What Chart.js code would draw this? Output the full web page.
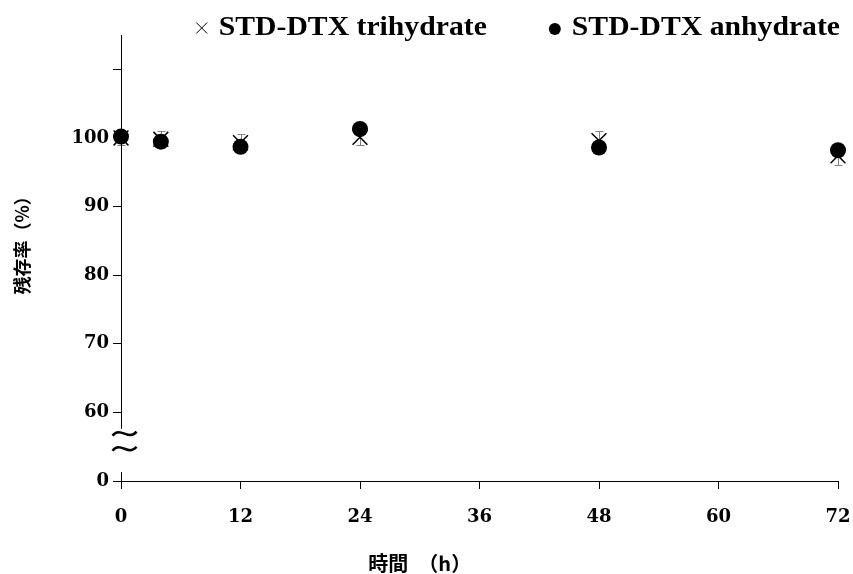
<!DOCTYPE html>
<html>
<head>
<meta charset="utf-8">
<script src="https://cdn.jsdelivr.net/npm/chart.js@4"></script>
<style>
  html, body { margin: 0; padding: 0; background: #fff; }
  #wrap { width: 853px; height: 574px; position: relative; }
</style>
</head>
<body>
<div id="wrap"><canvas id="chart"></canvas></div>
<script>
// time points (h)
const timeH = [0, 4, 12, 24, 48, 72];
// residual rate (%)
const trihydrate = [100.0, 99.8, 99.3, 100.1, 99.6, 97.4];
const trihydrateErr = [1.1, 1.2, 1.2, 1.2, 1.4, 1.4];
const anhydrate = [100.2, 99.45, 98.7, 101.3, 98.6, 98.2];

// axis ticks (y axis is broken: value 50 is shown as "0")
const xTicks = [0, 12, 24, 36, 48, 60, 72];
const yTickValues = [50, 60, 70, 80, 90, 100, 110];
const yTickLabels = ['0', '60', '70', '80', '90', '100', ''];

const seriesNames = ['STD-DTX trihydrate', 'STD-DTX anhydrate'];
const xTitle = '時間　（h）';
const yTitle = '残存率（%）';

const tickFont = { family: "'DejaVu Serif', serif", size: 18, weight: 'bold' };
const legendFont = "bold 27px 'Liberation Serif', serif";
const legendStretch = 1.1;

const toPoints = (ys) => timeH.map((t, i) => ({ x: t, y: ys[i] }));

const extras = {
  id: 'extras',
  beforeDatasetsDraw(chart) {
    // error bars for trihydrate
    const ctx = chart.ctx, xs = chart.scales.x, ys = chart.scales.y;
    ctx.save();
    ctx.strokeStyle = '#808080';
    ctx.lineWidth = 1;
    timeH.forEach((t, i) => {
      const px = Math.round(xs.getPixelForValue(t)) + 0.5;
      const top = ys.getPixelForValue(trihydrate[i] + trihydrateErr[i]);
      const bot = ys.getPixelForValue(trihydrate[i] - trihydrateErr[i]);
      ctx.beginPath();
      ctx.moveTo(px, top); ctx.lineTo(px, bot);
      ctx.moveTo(px - 4, Math.round(top) + 0.5); ctx.lineTo(px + 4, Math.round(top) + 0.5);
      ctx.moveTo(px - 4, Math.round(bot) + 0.5); ctx.lineTo(px + 4, Math.round(bot) + 0.5);
      ctx.stroke();
    });
    ctx.restore();
  },
  afterDraw(chart) {
    const ctx = chart.ctx, xs = chart.scales.x, ys = chart.scales.y;
    const area = chart.chartArea;
    const ax = Math.round(xs.getPixelForValue(0)) + 0.5;
    ctx.save();
    // broken y axis line
    ctx.strokeStyle = '#000';
    ctx.lineWidth = 1;
    ctx.beginPath();
    ctx.moveTo(ax, area.top);
    ctx.lineTo(ax, ys.getPixelForValue(57.6));
    ctx.moveTo(ax, ys.getPixelForValue(51.3));
    ctx.lineTo(ax, area.bottom);
    ctx.stroke();
    // break marks
    ctx.lineWidth = 2.5;
    [56.9, 54.7].forEach(v => {
      const cy = ys.getPixelForValue(v);
      const x0 = ax - 9, w = 24;
      ctx.beginPath();
      ctx.moveTo(x0, cy + 2);
      ctx.bezierCurveTo(x0 + w / 3, cy - 8, x0 + 2 * w / 3, cy + 8, x0 + w, cy - 2);
      ctx.stroke();
    });
    // axis titles
    ctx.fillStyle = '#000';
    ctx.textAlign = 'center';
    ctx.textBaseline = 'middle';
    ctx.font = "bold 20px 'Noto Sans CJK JP', sans-serif";
    ctx.fillText(xTitle, xs.getPixelForValue(30), 563);
    ctx.font = "bold 18px 'Noto Sans CJK JP', sans-serif";
    ctx.translate(ys.left + 22, ys.getPixelForValue(85));
    ctx.rotate(-Math.PI / 2);
    ctx.fillText(yTitle, 0, 0);
    ctx.restore();

    // legend, right aligned to the plot
    ctx.save();
    ctx.font = legendFont;
    ctx.fillStyle = '#000';
    ctx.strokeStyle = '#000';
    ctx.textBaseline = 'middle';
    ctx.textAlign = 'left';
    const ly = 28;
    let cursor = area.right + 2;
    for (let i = chart.data.datasets.length - 1; i >= 0; i--) {
      const ds = chart.data.datasets[i];
      const w = ctx.measureText(ds.label).width * legendStretch;
      const tx = cursor - w;
      ctx.save();
      ctx.translate(tx, ly);
      ctx.scale(legendStretch, 1);
      ctx.fillText(ds.label, 0, 0);
      ctx.restore();
      const mx = tx - 17;
      if (ds.pointStyle === 'crossRot') {
        ctx.lineWidth = 1;
        ctx.beginPath();
        ctx.moveTo(mx - 5.5, ly - 5.5); ctx.lineTo(mx + 5.5, ly + 5.5);
        ctx.moveTo(mx + 5.5, ly - 5.5); ctx.lineTo(mx - 5.5, ly + 5.5);
        ctx.stroke();
      } else {
        ctx.beginPath();
        ctx.arc(mx, ly + 1, 6, 0, Math.PI * 2);
        ctx.fill();
      }
      cursor = mx - 8 - 60;
    }
    ctx.restore();
  }
};

new Chart(document.getElementById('chart'), {
  type: 'scatter',
  data: {
    datasets: [
      {
        label: seriesNames[0],
        data: toPoints(trihydrate),
        pointStyle: 'crossRot',
        pointRadius: 10.5,
        borderColor: '#000',
        backgroundColor: '#000',
        borderWidth: 1.5,
        clip: false,
        order: 2
      },
      {
        label: seriesNames[1],
        data: toPoints(anhydrate),
        pointStyle: 'circle',
        pointRadius: 8,
        borderColor: '#000',
        backgroundColor: '#000',
        borderWidth: 0,
        clip: false,
        order: 1
      }
    ]
  },
  options: {
    responsive: true,
    maintainAspectRatio: false,
    animation: false,
    devicePixelRatio: 1,
    layout: { padding: { top: 35, right: 15, left: 0, bottom: 0 } },
    plugins: {
      legend: { display: false },
      tooltip: { enabled: false }
    },
    scales: {
      x: {
        type: 'linear',
        min: 0,
        max: 72,
        afterBuildTicks: (s) => { s.ticks = xTicks.map(v => ({ value: v })); },
        afterFit: (s) => { s.height = 93; s.paddingLeft = 0; s.paddingRight = 0; },
        grid: { display: true, drawOnChartArea: false, drawTicks: true, tickLength: 8, color: '#000', tickColor: '#000' },
        border: { display: true, color: '#000', width: 1 },
        ticks: { color: '#000', font: tickFont, padding: 18, maxRotation: 0 }
      },
      y: {
        type: 'linear',
        min: 50,
        max: 115,
        afterBuildTicks: (s) => { s.ticks = yTickValues.map(v => ({ value: v })); },
        afterFit: (s) => { s.width = 121; s.paddingTop = 0; s.paddingBottom = 0; },
        grid: { display: true, drawOnChartArea: false, drawTicks: true, tickLength: 8, color: '#000', tickColor: '#000' },
        border: { display: false },
        ticks: {
          color: '#000',
          font: tickFont,
          padding: 4,
          callback: (v) => {
            const i = yTickValues.indexOf(v);
            return i >= 0 ? yTickLabels[i] : '';
          }
        }
      }
    }
  },
  plugins: [extras]
});
</script>
</body>
</html>
